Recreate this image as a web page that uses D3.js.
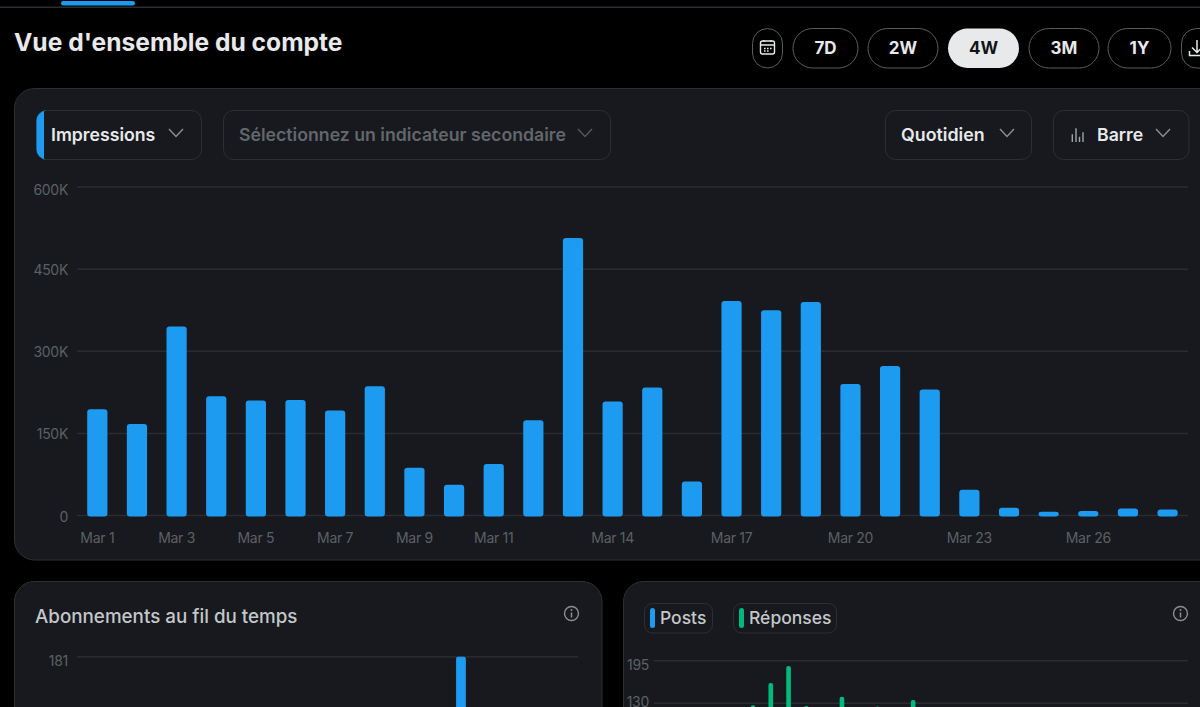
<!DOCTYPE html>
<html>
<head>
  <meta charset="utf-8">
  <title>Vue d'ensemble du compte</title>
  <script src="https://d3js.org/d3.v7.min.js"></script>
  <style>
    html, body { margin: 0; padding: 0; background: #000; overflow: hidden; }
    svg { display: block; font-family: Inter, "Noto Sans", sans-serif; }
    .axis path, .axis line { display: none; }
    .axis text { fill: #5c6064; font-size: 14px; font-family: Inter, sans-serif; letter-spacing: -0.3px; }
    .grid { stroke: #2a2c31; stroke-width: 1.5px; }
  </style>
</head>
<body>
<svg id="chart" width="1200" height="707"></svg>
<script>
  // Impressions per day
  var days = ["Mar 1","Mar 2","Mar 3","Mar 4","Mar 5","Mar 6","Mar 7","Mar 8","Mar 9","Mar 10",
    "Mar 11","Mar 12","Mar 13","Mar 14","Mar 15","Mar 16","Mar 17","Mar 18","Mar 19","Mar 20",
    "Mar 21","Mar 22","Mar 23","Mar 24","Mar 25","Mar 26","Mar 27","Mar 28"];
  var impressions = [194000,167000,345000,218000,210000,211000,192000,236000,87000,56000,
    94000,174000,507000,208000,234000,62000,392000,375000,390000,240000,
    273000,230000,47000,14000,7000,8000,13000,11000];
  var xTicks = ["Mar 1","Mar 3","Mar 5","Mar 7","Mar 9","Mar 11","Mar 14","Mar 17","Mar 20","Mar 23","Mar 26"];
  var yTicks = [0,150000,300000,450000,600000];

  // bottom panels, only the top of them is in the picture
  var followDays = ["Mar 22"];
  var followValues = [181];
  var replyDays = ["Mar 6","Mar 7","Mar 8","Mar 9","Mar 11","Mar 13","Mar 15"];
  var replyValues = [127,161,187,126,140,125,135];
  var replyTicks = [130,195];
  var rangeButtons = ["7D","2W","4W","3M","1Y"];

  var blue = "#1d9bf0", green = "#00ba7c", panel = "#17191e", line = "#2c2f34";
  var svg = d3.select("#chart");

  function box(x, y, w, h, r, fill, stroke) {
    return svg.append("rect").attr("x", x).attr("y", y).attr("width", w).attr("height", h)
      .attr("rx", r).attr("fill", fill).attr("stroke", stroke || "none");
  }
  function label(x, y, txt, size, weight, fill, anchor) {
    return svg.append("text").attr("x", x).attr("y", y).text(txt)
      .attr("font-size", size).attr("font-weight", weight).attr("fill", fill)
      .attr("text-anchor", anchor || "start");
  }
  function chevron(cx, cy, color) {
    svg.append("path").attr("d", "M" + (cx - 7) + " " + (cy - 4) + "L" + cx + " " + (cy + 3.5) + "L" + (cx + 7) + " " + (cy - 4))
      .attr("fill", "none").attr("stroke", color).attr("stroke-width", 1.4);
  }
  function info(cx, cy) {
    svg.append("circle").attr("cx", cx).attr("cy", cy).attr("r", 7).attr("fill", "none")
      .attr("stroke", "#8b8f93").attr("stroke-width", 1.4);
    svg.append("path").attr("d", "M" + cx + " " + (cy - 1) + "V" + (cy + 4)).attr("stroke", "#8b8f93").attr("stroke-width", 1.5);
    svg.append("circle").attr("cx", cx).attr("cy", cy - 3.5).attr("r", 1).attr("fill", "#8b8f93");
  }

  // top strip
  svg.append("rect").attr("x", 0).attr("y", 6.5).attr("width", 1200).attr("height", 1.5).attr("fill", "#2a2d31");
  box(61, 1, 74, 4.5, 2.2, blue);
  label(14, 51, "Vue d'ensemble du compte", 24.6, 700, "#e7e9ea");

  // range buttons
  var btnX = {"7D": [792.5, 65], "2W": [867.5, 70], "4W": [947.5, 71], "3M": [1028.5, 70], "1Y": [1107.5, 63]};
  box(752.5, 28.5, 30, 39.5, 15, "#000", "#5a5d60");
  svg.append("rect").attr("x", 760.5).attr("y", 41).attr("width", 14).attr("height", 13).attr("rx", 2)
    .attr("fill", "none").attr("stroke", "#e7e9ea").attr("stroke-width", 1.4);
  svg.append("path").attr("d", "M760 45H775M764 40V42M771 40V42M764 48.5h1.6M767 48.5h1.6M770 48.5h1.6M764 51h1.6M767 51h1.6")
    .attr("stroke", "#e7e9ea").attr("stroke-width", 1.4);
  rangeButtons.forEach(function(b) {
    var on = b === "4W";
    box(btnX[b][0] + 0.5, 28.5, btnX[b][1], 39.5, 19.7, on ? "#e7e9ea" : "#000", on ? "none" : "#5a5d60");
    label(btnX[b][0] + btnX[b][1] / 2 + 0.5, 53.5, b, 17, 700, on ? "#0f1419" : "#e7e9ea", "middle");
  });
  box(1181.5, 28.5, 40, 39.5, 15, "#000", "#5a5d60");
  svg.append("path").attr("d", "M1197 40V52M1192 47.5L1197 52.5L1202 47.5M1189.5 51V55.5H1204")
    .attr("fill", "none").attr("stroke", "#e7e9ea").attr("stroke-width", 1.5);

  // panels
  box(14.5, 88.5, 1230, 471.5, 20, panel, line);
  box(14.5, 581.5, 587.5, 200, 20, panel, line);
  box(623.5, 581.5, 620, 200, 20, panel, line);

  // dropdowns
  box(36.5, 110.5, 165, 49, 10, panel, line);
  svg.append("path").attr("d", "M44 110.5V159.5H46.5A10 10 0 0 1 36.5 149.5V120.5A10 10 0 0 1 46.5 110.5Z").attr("fill", blue);
  label(51, 140.5, "Impressions", 17.7, 600, "#e7e9ea");
  chevron(176, 133, "#8b8f93");
  box(223.5, 110.5, 387, 49, 10, panel, line);
  label(239, 140.5, "Sélectionnez un indicateur secondaire", 17.7, 600, "#63676b");
  chevron(585, 133, "#53575b");
  box(885.5, 110.5, 146, 49, 10, panel, line);
  label(901, 140.5, "Quotidien", 17.8, 600, "#e7e9ea");
  chevron(1007, 133, "#8b8f93");
  box(1053.5, 110.5, 135.5, 49, 10, panel, line);
  svg.append("path").attr("d", "M1072.3 142V134.3M1076 142V128.3M1079.5 142V136.7M1083 142V132.3")
    .attr("stroke", "#a0a4a8").attr("stroke-width", 1.4);
  label(1097, 140.5, "Barre", 17.7, 600, "#e7e9ea");
  chevron(1163, 133, "#8b8f93");

  // main chart
  var x = d3.scaleBand().domain(days).range([77.7, 1187.2]).paddingInner(0.49).paddingOuter(0.24);
  var y = d3.scaleLinear().domain([0, 600000]).range([515.5, 187]);

  svg.append("g").selectAll("line").data(yTicks).enter().append("line")
    .attr("class", "grid").attr("x1", 77).attr("x2", 1188)
    .attr("y1", function(d) { return y(d); }).attr("y2", function(d) { return y(d); });

  var yAxis = svg.append("g").attr("class", "axis").attr("transform", "translate(77,0)")
    .call(d3.axisLeft(y).tickValues(yTicks).tickSize(0).tickPadding(9)
      .tickFormat(function(d) { return d === 0 ? "0" : (d / 1000) + "K"; }));
  // tick labels sit a little under their grid lines
  yAxis.selectAll("text").attr("dy", function(d) { return d === 600000 ? "0.55em" : "0.4em"; });
  svg.append("g").attr("class", "axis").attr("transform", "translate(0,533)")
    .call(d3.axisBottom(x).tickValues(xTicks).tickSize(0).tickPadding(0));

  svg.append("g").selectAll("rect").data(impressions).enter().append("rect")
    .attr("fill", blue).attr("rx", 3)
    .attr("x", function(d, i) { return x(days[i]); })
    .attr("width", x.bandwidth())
    .attr("y", function(d) { return y(d); })
    .attr("height", function(d) { return y(0) - y(d) + 1; });

  // followers panel
  label(35, 623, "Abonnements au fil du temps", 18.8, 500, "#c4c7ca");
  info(571.5, 613.5);
  var fx = d3.scaleBand().domain(days).range([77, 578]).paddingInner(0.45).paddingOuter(0.3);
  var fy = d3.scaleLinear().domain([0, 181]).range([800, 656.7]);
  svg.append("line").attr("class", "grid").attr("x1", 77).attr("x2", 578).attr("y1", fy(181)).attr("y2", fy(181));
  var fAxis = svg.append("g").attr("class", "axis").attr("transform", "translate(77,0)")
    .call(d3.axisLeft(fy).tickValues([181]).tickSize(0).tickPadding(9));
  fAxis.selectAll("text").attr("dy", "0.65em");
  svg.append("g").selectAll("rect").data(followValues).enter().append("rect")
    .attr("fill", blue).attr("rx", 2)
    .attr("x", function(d, i) { return fx(followDays[i]); }).attr("width", fx.bandwidth())
    .attr("y", function(d) { return fy(d); }).attr("height", function(d) { return fy(0) - fy(d); });

  // posts / replies panel
  box(644.5, 603.5, 68, 29.5, 8, panel, line);
  box(650, 608, 5, 20, 2.5, blue);
  label(660, 623.5, "Posts", 17.5, 500, "#c4c7ca");
  box(733.5, 603.5, 103, 29.5, 8, panel, line);
  box(739, 608, 5, 20, 2.5, green);
  label(749, 623.5, "Réponses", 17.5, 500, "#c4c7ca");
  info(1180.5, 613.5);

  var rx = d3.scaleBand().domain(days).range([648.5, 1160]).padding(0.74);
  var ry = d3.scaleLinear().domain([0, 195]).range([788.5, 660.7]);
  svg.append("g").selectAll("line").data(replyTicks).enter().append("line")
    .attr("class", "grid").attr("x1", 654).attr("x2", 1188)
    .attr("y1", function(d) { return ry(d); }).attr("y2", function(d) { return ry(d); });
  var rAxis = svg.append("g").attr("class", "axis").attr("transform", "translate(654,0)")
    .call(d3.axisLeft(ry).tickValues(replyTicks).tickSize(0).tickPadding(5));
  rAxis.selectAll("text").attr("dy", function(d) { return d === 130 ? "0.25em" : "0.6em"; });
  svg.append("g").selectAll("rect").data(replyValues).enter().append("rect")
    .attr("fill", green).attr("rx", 2)
    .attr("x", function(d, i) { return rx(replyDays[i]); }).attr("width", rx.bandwidth())
    .attr("y", function(d) { return ry(d); }).attr("height", function(d) { return ry(0) - ry(d); });
</script>
</body>
</html>
